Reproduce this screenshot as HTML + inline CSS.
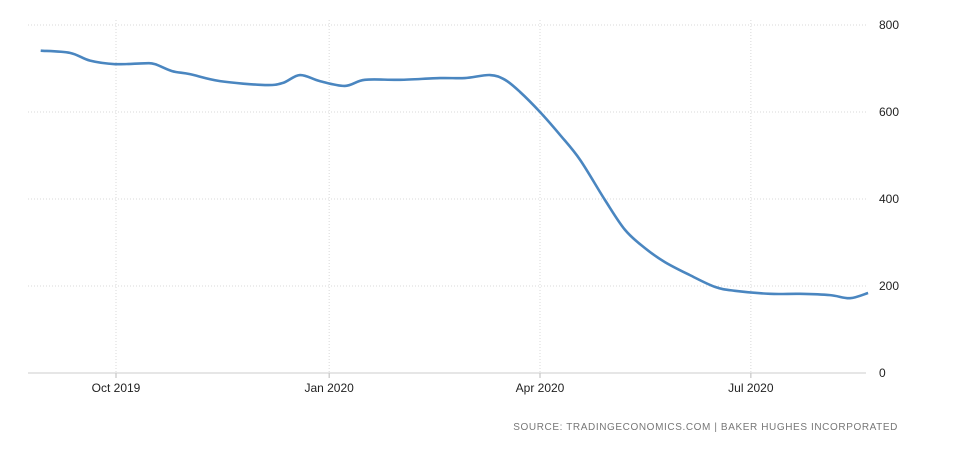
<!DOCTYPE html>
<html><head><meta charset="utf-8"><style>
body{margin:0;background:#fff;width:959px;height:447px;overflow:hidden}
svg text{font-family:"Liberation Sans",sans-serif}
</style></head><body>
<svg width="959" height="447" id="chart">
<text x="898" y="430" font-size="10" fill="#777" text-anchor="end" letter-spacing="0.6">SOURCE: TRADINGECONOMICS.COM  |  BAKER HUGHES INCORPORATED</text>
</svg>
<script>
const days=[-32.5,-19.9,-11.2,-0.4,12.5,16.8,24.2,31.9,44.9,64.3,72.1,79.4,88,98.8,107.4,122.6,139.8,150.6,161.4,167.9,174.4,183,191.7,200.3,211,219.7,228.3,236.9,247.7,258.5,267.1,282.3,295.2,308.2,316.8,324.6];
const rigs=[741,736,718,710,712,710,694,687,671,662,667,685,671,660,674,674,678,678,685,674,646,600,547,490,398,329,287,255,225,198,189,182,182,179,172,184];
const yTicks=[0,200,400,600,800];
const xTickDays=[0,92,183,274];
const xTickLabels=["Oct 2019","Jan 2020","Apr 2020","Jul 2020"];
const svg=document.getElementById('chart');const NS='http://www.w3.org/2000/svg';
const X=d=>116+d*2.317;const Y=v=>373-v*87/200;
function mk(t,a){const e=document.createElementNS(NS,t);for(const k in a)e.setAttribute(k,a[k]);svg.appendChild(e);return e;}
yTicks.forEach(v=>{
 if(v>0){const g=mk('line',{x1:28,x2:866,y1:Y(v),y2:Y(v),stroke:'#d8d8d8','stroke-dasharray':'1,2'});
 
 }
 const t=mk('text',{x:879,y:Y(v)+4,'font-size':12,fill:'#222'});t.textContent=v;
 
 
});
xTickDays.forEach((d,i)=>{
 const g=mk('line',{x1:X(d),x2:X(d),y1:20,y2:373,stroke:'#d8d8d8','stroke-dasharray':'1,2'});
 
 
 const tk=mk('line',{x1:X(d),x2:X(d),y1:373,y2:378,stroke:'#bbb'});
 
 
 const t=mk('text',{x:X(d),y:392,'font-size':12,fill:'#222','text-anchor':'middle'});t.textContent=xTickLabels[i];
 
 
});
const ax=mk('line',{x1:28,x2:866,y1:373,y2:373,stroke:'#ccc'});


const P=days.map((d,i)=>[X(d),Y(rigs[i])]);
let dstr='M'+P[0][0]+','+P[0][1];
for(let i=0;i<P.length-1;i++){const p0=P[i-1]||P[i],p1=P[i],p2=P[i+1],p3=P[i+2]||p2;
 const c1=[p1[0]+(p2[0]-p0[0])/6,p1[1]+(p2[1]-p0[1])/6],c2=[p2[0]-(p3[0]-p1[0])/6,p2[1]-(p3[1]-p1[1])/6];
 dstr+=`C${c1[0]},${c1[1]} ${c2[0]},${c2[1]} ${p2[0]},${p2[1]}`;}
const ln=mk('path',{d:dstr,fill:'none',stroke:'#4a86c0','stroke-width':2.6,'stroke-linejoin':'round'});


</script>
</body></html>
